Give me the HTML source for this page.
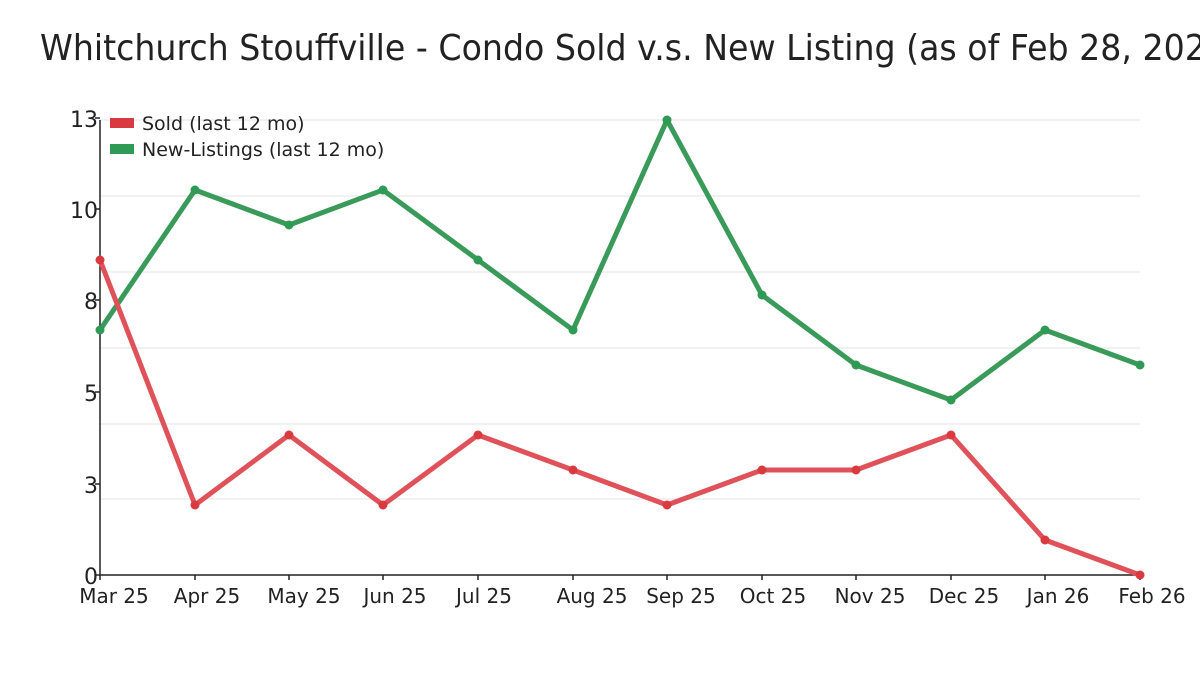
<!DOCTYPE html>
<html><head><meta charset="utf-8"><style>
body{margin:0;background:#fff}
svg{display:block;font-family:"DejaVu Sans","Liberation Sans",sans-serif}
</style></head><body>
<svg width="1200" height="675" viewBox="0 0 1200 675">
<rect width="1200" height="675" fill="#fff"/>
<text x="40" y="60" font-size="36" fill="#222" textLength="1200" lengthAdjust="spacingAndGlyphs">Whitchurch Stouffville - Condo Sold v.s. New Listing (as of Feb 28, 2026)</text>
<g stroke="#e3e3e3" stroke-width="1">
<line x1="100" x2="1140" y1="120" y2="120"/>
<line x1="100" x2="1140" y1="196" y2="196"/>
<line x1="100" x2="1140" y1="272" y2="272"/>
<line x1="100" x2="1140" y1="348" y2="348"/>
<line x1="100" x2="1140" y1="424" y2="424"/>
<line x1="100" x2="1140" y1="499" y2="499"/>
</g>
<g stroke="#222" stroke-width="1.5">
<line x1="100" x2="100" y1="120" y2="575"/>
<line x1="100" x2="1140" y1="575" y2="575"/>
<line x1="95" x2="100" y1="118" y2="118"/>
<line x1="95" x2="100" y1="209" y2="209"/>
<line x1="95" x2="100" y1="300" y2="300"/>
<line x1="95" x2="100" y1="392" y2="392"/>
<line x1="95" x2="100" y1="484" y2="484"/>
<line x1="95" x2="100" y1="575" y2="575"/>
<line x1="100" x2="100" y1="575" y2="580"/><line x1="195" x2="195" y1="575" y2="580"/><line x1="289" x2="289" y1="575" y2="580"/><line x1="383" x2="383" y1="575" y2="580"/><line x1="478" x2="478" y1="575" y2="580"/><line x1="573" x2="573" y1="575" y2="580"/><line x1="667" x2="667" y1="575" y2="580"/><line x1="762" x2="762" y1="575" y2="580"/><line x1="856" x2="856" y1="575" y2="580"/><line x1="951" x2="951" y1="575" y2="580"/><line x1="1045" x2="1045" y1="575" y2="580"/><line x1="1140" x2="1140" y1="575" y2="580"/>
</g>
<g font-size="22" fill="#222" text-anchor="end">
<text x="98" y="127">13</text><text x="98" y="218">10</text><text x="98" y="309">8</text><text x="98" y="401">5</text><text x="98" y="493">3</text><text x="98" y="584">0</text>
</g>
<g font-size="20" fill="#222" text-anchor="middle">
<text x="114" y="603">Mar 25</text><text x="207" y="603">Apr 25</text><text x="304" y="603">May 25</text><text x="395" y="603">Jun 25</text><text x="484" y="603">Jul 25</text><text x="592" y="603">Aug 25</text><text x="681" y="603">Sep 25</text><text x="773" y="603">Oct 25</text><text x="870" y="603">Nov 25</text><text x="964" y="603">Dec 25</text><text x="1058" y="603">Jan 26</text><text x="1152" y="603">Feb 26</text>
</g>
<polyline fill="none" stroke="#3a9a5a" stroke-width="5" stroke-linejoin="round" points="100,330 195,190 289,225 383,190 478,260 573,330 667,120 762,295 856,365 951,400 1045,330 1140,365"/>
<g fill="#2e9a55">
<circle cx="100" cy="330" r="4.5"/><circle cx="195" cy="190" r="4.5"/><circle cx="289" cy="225" r="4.5"/><circle cx="383" cy="190" r="4.5"/><circle cx="478" cy="260" r="4.5"/><circle cx="573" cy="330" r="4.5"/><circle cx="667" cy="120" r="4.5"/><circle cx="762" cy="295" r="4.5"/><circle cx="856" cy="365" r="4.5"/><circle cx="951" cy="400" r="4.5"/><circle cx="1045" cy="330" r="4.5"/><circle cx="1140" cy="365" r="4.5"/>
</g>
<polyline fill="none" stroke="#e0525a" stroke-width="5" stroke-linejoin="round" points="100,260 195,505 289,435 383,505 478,435 573,470 667,505 762,470 856,470 951,435 1045,540 1140,575"/>
<g fill="#d93a40">
<circle cx="100" cy="260" r="4.5"/><circle cx="195" cy="505" r="4.5"/><circle cx="289" cy="435" r="4.5"/><circle cx="383" cy="505" r="4.5"/><circle cx="478" cy="435" r="4.5"/><circle cx="573" cy="470" r="4.5"/><circle cx="667" cy="505" r="4.5"/><circle cx="762" cy="470" r="4.5"/><circle cx="856" cy="470" r="4.5"/><circle cx="951" cy="435" r="4.5"/><circle cx="1045" cy="540" r="4.5"/><circle cx="1140" cy="575" r="4.5"/>
</g>
<rect x="110" y="118" width="24" height="10" fill="#d93a40"/>
<rect x="110" y="144" width="24" height="10" fill="#2e9a55"/>
<g font-size="19" fill="#222"><text x="142" y="130">Sold (last 12 mo)</text><text x="142" y="156">New-Listings (last 12 mo)</text></g>
</svg>
</body></html>
